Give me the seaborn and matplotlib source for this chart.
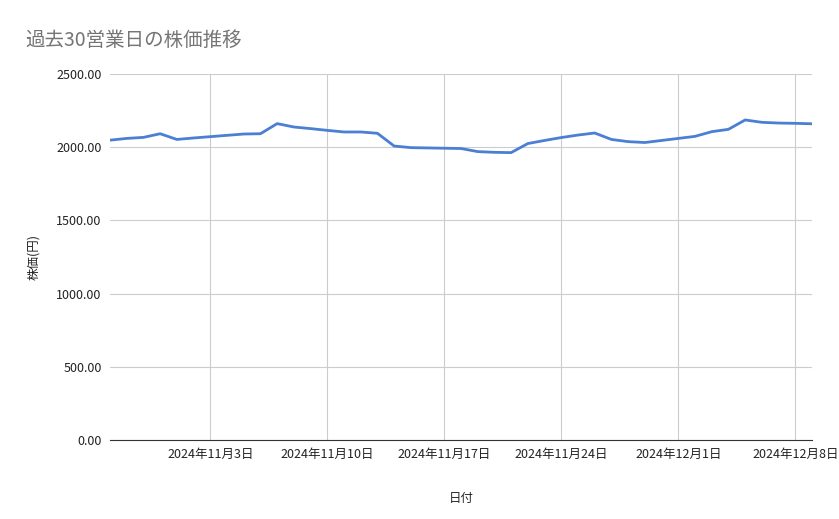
import seaborn as sns
import matplotlib.pyplot as plt
import matplotlib.dates as mdates
import pandas as pd

dates = pd.date_range("2024-10-28", "2024-12-09", freq="D")
prices = [2048, 2060, 2067, 2092, 2053, 2063, 2072, 2081, 2090, 2092,
          2161, 2138, 2127, 2115, 2104, 2104, 2095, 2008, 1997, 1995,
          1993, 1991, 1970, 1965, 1963, 2025, 2046, 2066, 2083, 2097,
          2053, 2038, 2032, 2046, 2060, 2074, 2106, 2122, 2186, 2170,
          2165, 2163, 2160]
tick_dates = pd.date_range("2024-11-03", "2024-12-08", freq="7D")

df = pd.DataFrame({"date": dates, "price": prices})

sns.set_style("white")
plt.rcParams['font.family'] = ['Noto Sans CJK JP', 'DejaVu Sans']

fig = plt.figure(figsize=(8.39, 5.19), dpi=100)
ax = fig.add_axes([110 / 839, 1 - 440 / 519, 702 / 839, 366 / 519])
sns.lineplot(data=df, x="date", y="price", color="#4a7fd4", linewidth=2, ax=ax)

ax.set_xlim(dates[0], dates[-1])
ax.set_ylim(0, 2500)
ax.set_yticks(range(0, 2501, 500))
ax.set_yticklabels([f"{v:.2f}" for v in range(0, 2501, 500)])
ax.set_xticks(tick_dates)
ax.set_xticklabels([f"{d.year}年{d.month}月{d.day}日" for d in tick_dates])
ax.grid(True, color="#cccccc", linewidth=0.8)
for s in ["top", "right", "left"]:
    ax.spines[s].set_visible(False)
ax.spines["bottom"].set_color("#333333")
ax.tick_params(axis="both", length=0, labelsize=9, colors="#222222", pad=6)

ax.set_xlabel("日付", fontsize=9, labelpad=22)
ax.set_ylabel("株価(円)", fontsize=9, labelpad=12)
fig.text(25 / 839, 1 - 40 / 519, "過去30営業日の株価推移", fontsize=14, color="#757575", va="center")

plt.savefig("out.png", dpi=100)
